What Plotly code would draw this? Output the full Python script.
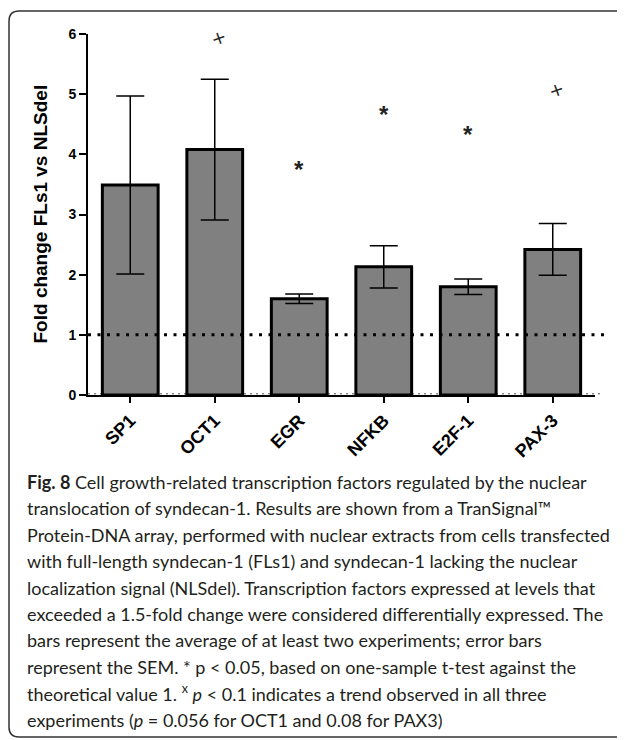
import plotly.graph_objects as go

categories = ["SP1", "OCT1", "EGR", "NFKB", "E2F-1", "PAX-3"]
fold_change = [3.49, 4.08, 1.60, 2.13, 1.80, 2.42]
sem = [1.48, 1.17, 0.08, 0.35, 0.13, 0.43]
sig_cats = ["OCT1", "EGR", "NFKB", "E2F-1", "PAX-3"]
sig_y = [5.94, 3.81, 4.73, 4.39, 5.07]
sig_mark = ["x", "*", "*", "*", "x"]
y_ticks = [0, 1, 2, 3, 4, 5, 6]

caption_lines = [
    "<b>Fig. 8</b> Cell growth-related transcription factors regulated by the nuclear",
    "translocation of syndecan-1. Results are shown from a TranSignal™",
    "Protein-DNA array, performed with nuclear extracts from cells transfected",
    "with full-length syndecan-1 (FLs1) and syndecan-1 lacking the nuclear",
    "localization signal (NLSdel). Transcription factors expressed at levels that",
    "exceeded a 1.5-fold change were considered differentially expressed. The",
    "bars represent the average of at least two experiments; error bars",
    "represent the SEM. * p &lt; 0.05, based on one-sample t-test against the",
    "theoretical value 1. <sup>x</sup> <i>p</i> &lt; 0.1 indicates a trend observed in all three",
    "experiments (<i>p</i> = 0.056 for OCT1 and 0.08 for PAX3)",
]

# page has an 8px body margin; figure coordinates = screen - 8
OFF = 8
W, H = 625 - OFF, 740 - OFF
L, T = 88 - OFF, 34 - OFF
R = W - (595 - OFF)
B = H - (395 - OFF)
PW, PH = W - L - R, H - T - B


def px(x):
    return (x - OFF - L) / PW


def py(y):
    return (H - B - (y - OFF)) / PH


fig = go.Figure()
fig.add_trace(go.Bar(
    x=categories, y=fold_change,
    marker=dict(color="#808080", line=dict(color="black", width=3)),
    width=0.66,
    error_y=dict(type="data", array=sem, visible=True, color="black",
                 thickness=1.5, width=14),
))

annotations = []
for c, yv, m in zip(sig_cats, sig_y, sig_mark):
    if m == "*":
        annotations.append(dict(x=c, y=yv, xref="x", yref="y", text="*",
                                showarrow=False,
                                font=dict(family="Arial", size=24, color="#222", weight="bold"),
                                yshift=-4))
    else:
        annotations.append(dict(x=c, y=yv, xref="x", yref="y", text="+",
                                showarrow=False, textangle=-20, xshift=4, yshift=0,
                                font=dict(family="DejaVu Sans", size=18, color="#222")))

cap_y0 = 482
for i, line in enumerate(caption_lines):
    annotations.append(dict(
        x=px(25), y=py(cap_y0 + i * 26.4), xref="paper", yref="paper",
        xanchor="left", yanchor="middle", showarrow=False, text=line, align="left",
        font=dict(family="Lato", size=18, color="#231f20"),
    ))

annotations.append(dict(
    x=px(40), y=0.5, xref="paper", yref="paper", text="<b>Fold change FLs1 vs NLSdel</b>",
    textangle=-90, showarrow=False, xanchor="center", yanchor="middle",
    font=dict(family="Arial", size=19, color="black"),
))

shapes = [
    dict(type="line", xref="paper", yref="y", x0=0, x1=px(607), y0=1, y1=1,
         line=dict(color="black", width=3, dash="3px,6.5px"), layer="above"),
    dict(type="line", xref="paper", yref="y", x0=0, x1=px(603), y0=0.02, y1=0.02,
         line=dict(color="#555", width=1, dash="2px,4px"), layer="below"),
]
r = 10
x0, x1, yt, yb = 9, 660, 11, 737
path = (f"M {px(x1)} {py(yt)} L {px(x0 + r)} {py(yt)} "
        f"Q {px(x0)} {py(yt)} {px(x0)} {py(yt + r)} "
        f"L {px(x0)} {py(yb - r)} Q {px(x0)} {py(yb)} {px(x0 + r)} {py(yb)} "
        f"L {px(x1)} {py(yb)}")
shapes.append(dict(type="path", xref="paper", yref="paper", path=path,
                   line=dict(color="#333", width=1.5)))

fig.update_layout(
    width=W, height=H, margin=dict(l=L, r=R, t=T, b=B),
    plot_bgcolor="white", paper_bgcolor="white", showlegend=False,
    annotations=annotations, shapes=shapes,
    xaxis=dict(range=[-0.5, 5.5], showline=True, linecolor="black", linewidth=2,
               ticks="outside", ticklen=6, tickwidth=2, tickcolor="black",
               tickangle=-45, showgrid=False, zeroline=False,
               tickfont=dict(family="Arial", size=18, color="black", weight="bold")),
    yaxis=dict(range=[0, 6], tickvals=y_ticks, showline=True, linecolor="black", linewidth=2,
               ticks="outside", ticklen=7, tickwidth=2, tickcolor="black",
               showgrid=False, zeroline=False,
               tickfont=dict(family="Arial", size=14, color="black", weight="bold")),
)

fig.write_html("out.html")
